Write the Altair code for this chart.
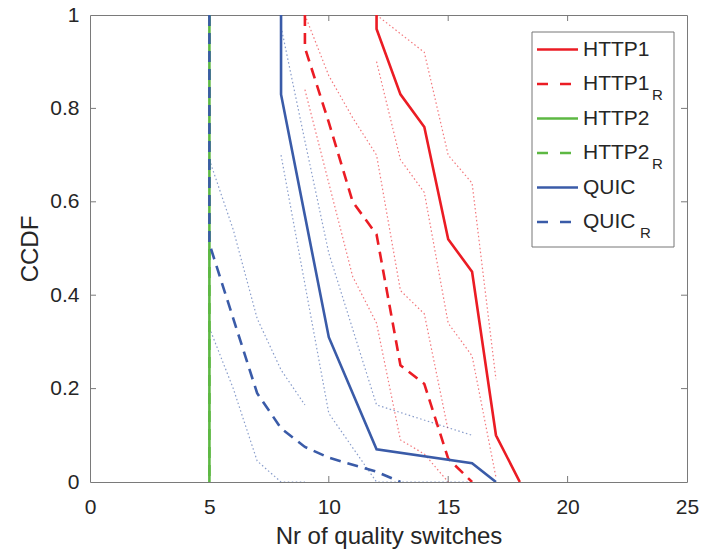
import altair as alt
import pandas as pd

# ---------------- data ----------------
HTTP1_x = [12, 12, 13, 14, 15, 16, 17, 18]
HTTP1_y = [1.0, 0.97, 0.83, 0.76, 0.52, 0.45, 0.10, 0.0]
HTTP1R_x = [9, 9, 10, 11, 12, 13, 14, 15, 16]
HTTP1R_y = [1.0, 0.93, 0.77, 0.60, 0.53, 0.25, 0.21, 0.05, 0.0]
HTTP2_x = [5, 5]
HTTP2_y = [1.0, 0.0]
HTTP2R_x = [5, 5]
HTTP2R_y = [1.0, 0.0]
QUIC_x = [8, 8, 9, 10, 12, 16, 17]
QUIC_y = [1.0, 0.83, 0.57, 0.31, 0.07, 0.04, 0.0]
QUICR_x = [5, 5, 6, 7, 8, 9, 10, 11, 12, 13]
QUICR_y = [1.0, 0.51, 0.35, 0.19, 0.115, 0.075, 0.052, 0.037, 0.022, 0.0]

# confidence bounds (dotted)
HTTP1_up_x = [12, 13, 14, 15, 16, 17]
HTTP1_up_y = [1.0, 0.96, 0.92, 0.70, 0.64, 0.22]
HTTP1_lo_x = [12, 13, 14, 15, 16, 17]
HTTP1_lo_y = [0.90, 0.69, 0.62, 0.34, 0.27, 0.01]
HTTP1R_up_x = [9, 10, 11, 12, 13, 14, 15]
HTTP1R_up_y = [1.0, 0.87, 0.78, 0.70, 0.41, 0.36, 0.11]
HTTP1R_lo_x = [9, 10, 11, 12, 13, 14, 15]
HTTP1R_lo_y = [0.84, 0.64, 0.44, 0.34, 0.09, 0.06, 0.0]
QUIC_up_x = [8, 8, 9, 10, 12, 16]
QUIC_up_y = [1.0, 0.975, 0.73, 0.49, 0.165, 0.10]
QUIC_lo_x = [8, 10, 12, 16]
QUIC_lo_y = [0.70, 0.147, 0.0, 0.0]
QUICR_up_x = [5, 6, 7, 8, 9]
QUICR_up_y = [0.69, 0.54, 0.35, 0.24, 0.165]
QUICR_lo_x = [5, 6, 7, 8, 9]
QUICR_lo_y = [0.33, 0.20, 0.045, 0.0, 0.0]

series_names = ["HTTP1", "HTTP1_R", "HTTP2", "HTTP2_R", "QUIC", "QUIC_R"]
legend_main = ["HTTP1", "HTTP1", "HTTP2", "HTTP2", "QUIC", "QUIC"]
legend_sub = ["", "R", "", "R", "", "R"]
x_ticks = [0, 5, 10, 15, 20, 25]
y_ticks = [0, 0.2, 0.4, 0.6, 0.8, 1.0]

# ---------------- styles ----------------
RED, GREEN, BLUE = "#EB1C24", "#5DB843", "#3A5BA8"
colors = {"HTTP1": RED, "HTTP1_R": RED, "HTTP2": GREEN, "HTTP2_R": GREEN,
          "QUIC": BLUE, "QUIC_R": BLUE}
dashed = {"HTTP1": False, "HTTP1_R": True, "HTTP2": False, "HTTP2_R": True,
          "QUIC": False, "QUIC_R": True}
DASH = [11, 7]
FONT = "Liberation Sans"
TXT = "#262626"
W, H = 597, 467
XMAX = 25.0

main = {"HTTP1": (HTTP1_x, HTTP1_y), "HTTP1_R": (HTTP1R_x, HTTP1R_y),
        "HTTP2": (HTTP2_x, HTTP2_y), "HTTP2_R": (HTTP2R_x, HTTP2R_y),
        "QUIC": (QUIC_x, QUIC_y), "QUIC_R": (QUICR_x, QUICR_y)}
bounds = [("HTTP1", HTTP1_up_x, HTTP1_up_y), ("HTTP1", HTTP1_lo_x, HTTP1_lo_y),
          ("HTTP1_R", HTTP1R_up_x, HTTP1R_up_y), ("HTTP1_R", HTTP1R_lo_x, HTTP1R_lo_y),
          ("QUIC", QUIC_up_x, QUIC_up_y), ("QUIC", QUIC_lo_x, QUIC_lo_y),
          ("QUIC_R", QUICR_up_x, QUICR_up_y), ("QUIC_R", QUICR_lo_x, QUICR_lo_y)]

xs = alt.Scale(domain=[0, XMAX], nice=False, zero=False)
ys = alt.Scale(domain=[0, 1], nice=False, zero=False)

x_axis = alt.Axis(values=x_ticks, title="Nr of quality switches", grid=False,
                  domain=False, ticks=False, tickSize=0, labelPadding=14,
                  labelFlush=False,
                  labelFontSize=21, labelFont=FONT, labelColor=TXT,
                  titleFontSize=24, titleFont=FONT, titleColor=TXT,
                  titleFontWeight="normal", titleY=42, titleBaseline="top")
y_axis = alt.Axis(values=y_ticks, format="~g", title="CCDF", grid=False,
                  domain=False, ticks=False, tickSize=0, labelPadding=11,
                  labelFlush=False,
                  labelFontSize=21, labelFont=FONT, labelColor=TXT,
                  titleFontSize=24, titleFont=FONT, titleColor=TXT,
                  titleFontWeight="normal", titleX=-60, titleY=H / 2,
                  titleAngle=-90, titleAlign="center", titleBaseline="middle")

layers = []

# base layer providing axes
axis_df = pd.DataFrame({"x": [0, XMAX], "y": [0, 1]})
layers.append(alt.Chart(axis_df).mark_point(opacity=0).encode(
    x=alt.X("x:Q", scale=xs, axis=x_axis),
    y=alt.Y("y:Q", scale=ys, axis=y_axis)))

# inward tick marks
tk = 6.0
tick_rows = []
for v in x_ticks[1:-1]:
    tick_rows.append({"x": v, "x2": v, "y": 0.0, "y2": tk / H})
    tick_rows.append({"x": v, "x2": v, "y": 1.0, "y2": 1.0 - tk / H})
for v in y_ticks[1:-1]:
    tick_rows.append({"x": 0.0, "x2": tk * XMAX / W, "y": v, "y2": v})
    tick_rows.append({"x": XMAX, "x2": XMAX - tk * XMAX / W, "y": v, "y2": v})
layers.append(alt.Chart(pd.DataFrame(tick_rows)).mark_rule(
    color="#7a7a7a", strokeWidth=1).encode(
    x=alt.X("x:Q", scale=xs), x2="x2:Q", y=alt.Y("y:Q", scale=ys), y2="y2:Q"))

# dotted bounds
for i, (name, bx, by) in enumerate(bounds):
    df = pd.DataFrame({"x": bx, "y": by, "i": list(range(len(bx)))})
    layers.append(alt.Chart(df).mark_line(
        color=colors[name], strokeWidth=1.2, strokeDash=[1.5, 2.5],
        opacity=0.6, clip=True).encode(
        x=alt.X("x:Q", scale=xs), y=alt.Y("y:Q", scale=ys), order="i:Q"))

# main series
for name in series_names:
    mx, my = main[name]
    df = pd.DataFrame({"x": mx, "y": my, "i": list(range(len(mx)))})
    kw = dict(color=colors[name], strokeWidth=2.6, clip=True)
    if dashed[name]:
        kw["strokeDash"] = DASH
    layers.append(alt.Chart(df).mark_line(**kw).encode(
        x=alt.X("x:Q", scale=xs), y=alt.Y("y:Q", scale=ys), order="i:Q"))

# ---------------- legend (placed in data units) ----------------
def px2x(p):
    return (p - 90) * XMAX / W


def px2y(p):
    return (482 - p) / H


box = pd.DataFrame({"x": [px2x(532)], "x2": [px2x(674)],
                    "y": [px2y(32)], "y2": [px2y(247)]})
layers.append(alt.Chart(box).mark_rect(fill="white", stroke="#777777",
                                        strokeWidth=1).encode(
    x=alt.X("x:Q", scale=xs), x2="x2:Q", y=alt.Y("y:Q", scale=ys), y2="y2:Q"))

row_px = [49.5, 84.0, 118.5, 153.0, 187.5, 222.0]
for k, name in enumerate(series_names):
    ydat = px2y(row_px[k])
    seg = pd.DataFrame({"x": [px2x(537)], "x2": [px2x(578)], "y": [ydat]})
    kw = dict(color=colors[name], strokeWidth=2.6)
    if dashed[name]:
        kw["strokeDash"] = [11, 12]
    layers.append(alt.Chart(seg).mark_rule(**kw).encode(
        x=alt.X("x:Q", scale=xs), x2="x2:Q", y=alt.Y("y:Q", scale=ys)))

lab = pd.DataFrame({"x": [px2x(583)] * 6, "y": [px2y(p) for p in row_px],
                    "t": legend_main})
layers.append(alt.Chart(lab).mark_text(
    align="left", baseline="middle", fontSize=21, font=FONT, color=TXT).encode(
    x=alt.X("x:Q", scale=xs), y=alt.Y("y:Q", scale=ys), text="t:N"))

sub_rows = []
for k in range(6):
    if legend_sub[k]:
        end_px = 652 if legend_main[k].startswith("HTTP") else 640
        sub_rows.append({"x": px2x(end_px), "y": px2y(row_px[k] + 11),
                         "t": legend_sub[k]})
layers.append(alt.Chart(pd.DataFrame(sub_rows)).mark_text(
    align="left", baseline="middle", fontSize=15, font=FONT, color=TXT).encode(
    x=alt.X("x:Q", scale=xs), y=alt.Y("y:Q", scale=ys), text="t:N"))

chart = alt.layer(*layers).properties(
    width=W, height=H,
    autosize=alt.AutoSizeParams(type="none"),
    padding={"left": 90, "top": 15, "right": 20, "bottom": 71},
    background="white",
).configure_view(stroke="#7a7a7a", strokeWidth=1)

chart.save("out.html", embed_options={"renderer": "svg", "actions": False})
